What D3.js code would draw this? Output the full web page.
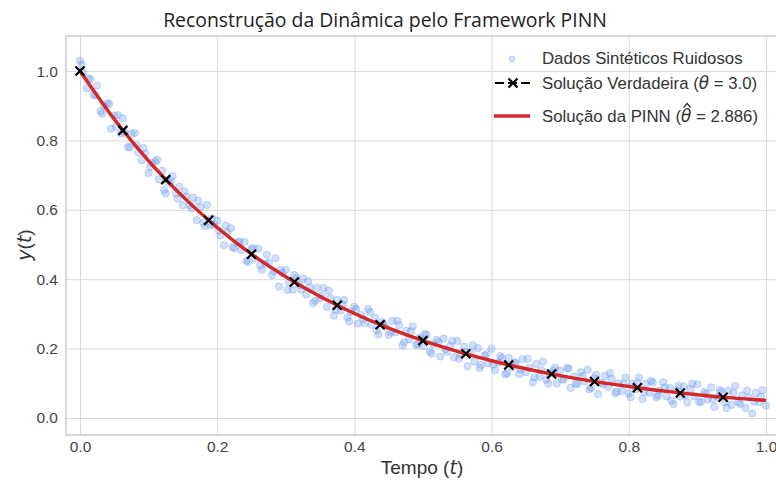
<!DOCTYPE html>
<meta charset="utf-8">
<style>
body { margin: 0; background: #fff; }
svg { display: block; }
.grid line { stroke: #d8d8d8; stroke-width: 1; }
</style>
<body>
<svg width="776" height="480"></svg>
<script src="https://d3js.org/d3.v7.min.js"></script>
<script>
// tick values
var xTicks = [0.0, 0.2, 0.4, 0.6, 0.8, 1.0];
var yTicks = [0.0, 0.2, 0.4, 0.6, 0.8, 1.0];

// noisy synthetic points
var noiseT = [
  0.000,0.005,0.010,0.015,0.020,0.025,0.030,0.035,0.040,0.045,0.050,0.055,0.060,0.065,0.070,0.075,0.080,0.085,0.090,0.095,
  0.100,0.105,0.110,0.115,0.120,0.125,0.130,0.135,0.140,0.145,0.150,0.155,0.160,0.165,0.170,0.175,0.180,0.185,0.190,0.195,
  0.200,0.205,0.210,0.215,0.220,0.225,0.230,0.235,0.240,0.245,0.250,0.255,0.260,0.265,0.270,0.275,0.280,0.285,0.290,0.295,
  0.300,0.305,0.310,0.315,0.320,0.325,0.330,0.335,0.340,0.345,0.350,0.355,0.360,0.365,0.370,0.375,0.380,0.385,0.390,0.395,
  0.400,0.405,0.410,0.415,0.420,0.425,0.430,0.435,0.440,0.445,0.450,0.455,0.460,0.465,0.470,0.475,0.480,0.485,0.490,0.495,
  0.500,0.505,0.510,0.515,0.520,0.525,0.530,0.535,0.540,0.545,0.550,0.555,0.560,0.565,0.570,0.575,0.580,0.585,0.590,0.595,
  0.600,0.605,0.610,0.615,0.620,0.625,0.630,0.635,0.640,0.645,0.650,0.655,0.660,0.665,0.670,0.675,0.680,0.685,0.690,0.695,
  0.700,0.705,0.710,0.715,0.720,0.725,0.730,0.735,0.740,0.745,0.750,0.755,0.760,0.765,0.770,0.775,0.780,0.785,0.790,0.795,
  0.800,0.805,0.810,0.815,0.820,0.825,0.830,0.835,0.840,0.845,0.850,0.855,0.860,0.865,0.870,0.875,0.880,0.885,0.890,0.895,
  0.900,0.905,0.910,0.915,0.920,0.925,0.930,0.935,0.940,0.945,0.950,0.955,0.960,0.965,0.970,0.975,0.980,0.985,0.990,0.995,
  1.000,
  0.0025,0.0125,0.0225,0.0325,0.0425,0.0525,0.0625,0.0725,0.0825,0.0925,
  0.1025,0.1125,0.1225,0.1325,0.1425,0.1525,0.1625,0.1725,0.1825,0.1925,
  0.2025,0.2125,0.2225,0.2325,0.2425,0.2525,0.2625,0.2725,0.2825,0.2925,
  0.3025,0.3125,0.3225,0.3325,0.3425,0.3525,0.3625,0.3725,0.3825,0.3925,
  0.4025,0.4125,0.4225,0.4325,0.4425,0.4525,0.4625,0.4725,0.4825,0.4925,
  0.5025,0.5125,0.5225,0.5325,0.5425,0.5525,0.5625,0.5725,0.5825,0.5925,
  0.6025,0.6125,0.6225,0.6325,0.6425,0.6525,0.6625,0.6725,0.6825,0.6925,
  0.7025,0.7125,0.7225,0.7325,0.7425,0.7525,0.7625,0.7725,0.7825,0.7925,
  0.8025,0.8125,0.8225,0.8325,0.8425,0.8525,0.8625,0.8725,0.8825,0.8925,
  0.9025,0.9125,0.9225,0.9325,0.9425,0.9525,0.9625,0.9725,0.9825,0.9925
];
var noiseY = [
  1.030,0.995,0.950,0.976,0.932,0.958,0.884,0.900,0.907,0.834,0.871,0.873,0.820,0.823,0.781,0.819,0.822,0.765,0.743,0.762,
  0.706,0.735,0.739,0.688,0.713,0.647,0.677,0.697,0.647,0.667,0.613,0.638,0.614,0.635,0.570,0.607,0.563,0.614,0.556,0.557,
  0.569,0.526,0.498,0.535,0.547,0.489,0.507,0.484,0.507,0.450,0.487,0.460,0.488,0.427,0.445,0.448,0.412,0.460,0.379,0.418,
  0.427,0.391,0.370,0.404,0.383,0.402,0.357,0.376,0.331,0.375,0.345,0.375,0.320,0.345,0.295,0.340,0.310,0.340,0.290,0.306,
  0.321,0.272,0.297,0.273,0.314,0.269,0.290,0.241,0.277,0.263,0.239,0.280,0.247,0.268,0.209,0.251,0.227,0.264,0.210,0.232,
  0.208,0.240,0.192,0.213,0.225,0.177,0.229,0.191,0.208,0.175,0.222,0.184,0.206,0.149,0.186,0.163,0.201,0.153,0.180,0.158,
  0.200,0.138,0.160,0.173,0.126,0.173,0.146,0.159,0.127,0.169,0.132,0.145,0.103,0.156,0.119,0.162,0.110,0.128,0.136,0.099,
  0.137,0.111,0.144,0.087,0.120,0.098,0.132,0.105,0.139,0.087,0.115,0.069,0.102,0.121,0.089,0.113,0.071,0.100,0.078,0.117,
  0.071,0.099,0.083,0.117,0.055,0.099,0.073,0.102,0.060,0.079,0.103,0.062,0.086,0.040,0.079,0.062,0.091,0.045,0.084,0.063,
  0.097,0.046,0.075,0.054,0.088,0.032,0.061,0.076,0.045,0.079,0.038,0.092,0.046,0.065,0.029,0.059,0.013,0.072,0.046,0.080,
  0.035,
  1.018,0.978,0.930,0.877,0.905,0.839,0.864,0.780,0.786,0.778,
  0.725,0.744,0.657,0.682,0.632,0.653,0.604,0.626,0.553,0.576,
  0.540,0.554,0.493,0.508,0.453,0.489,0.440,0.471,0.423,0.426,
  0.369,0.412,0.370,0.394,0.338,0.352,0.367,0.312,0.328,0.278,
  0.314,0.285,0.306,0.253,0.270,0.247,0.280,0.218,0.250,0.213,
  0.242,0.185,0.219,0.198,0.222,0.171,0.190,0.209,0.144,0.184,
  0.154,0.179,0.129,0.160,0.140,0.171,0.117,0.138,0.099,0.145,
  0.112,0.143,0.099,0.121,0.083,0.125,0.097,0.129,0.076,0.098,
  0.060,0.102,0.075,0.107,0.065,0.088,0.050,0.093,0.066,0.099,
  0.047,0.070,0.053,0.081,0.029,0.072,0.041,0.079,0.047,0.061
];

// true solution (theta = 3.0), marker positions
var trueT = [0, 0.0625, 0.125, 0.1875, 0.25, 0.3125, 0.375, 0.4375, 0.5, 0.5625, 0.625, 0.6875, 0.75, 0.8125, 0.875, 0.9375];
var trueY = [1.000, 0.829, 0.687, 0.570, 0.472, 0.392, 0.325, 0.269, 0.223, 0.185, 0.153, 0.127, 0.105, 0.087, 0.072, 0.060];

// PINN solution (theta hat = 2.886)
var pinnT = [0, 0.05, 0.1, 0.15, 0.2, 0.25, 0.3, 0.35, 0.4, 0.45, 0.5, 0.55, 0.6, 0.65, 0.7, 0.75, 0.8, 0.85, 0.9, 0.95, 1.0];
var pinnY = [1.000, 0.861, 0.741, 0.638, 0.549, 0.472, 0.407, 0.350, 0.301, 0.259, 0.223, 0.192, 0.165, 0.142, 0.122, 0.105, 0.091, 0.078, 0.067, 0.058, 0.051];

var svg = d3.select("svg");
var plotL = 66, plotR = 780, plotT = 36, plotB = 435;
var sans = "'Liberation Sans', Arial, sans-serif";

var x = d3.scaleLinear().domain([-0.0204, 1.0204]).range([plotL, plotR]);
var y = d3.scaleLinear().domain([-0.049, 1.101]).range([plotB, plotT]);

function styleTicks(g) {
  g.select(".domain").remove();
  g.selectAll(".tick text")
    .style("font-family", sans)
    .style("font-size", "15.5px")
    .style("fill", "#444");
}

// grid + tick labels
svg.append("g")
    .attr("class", "grid")
    .attr("transform", "translate(" + plotL + ",0)")
    .call(d3.axisLeft(y).tickValues(yTicks).tickFormat(d3.format(".1f"))
      .tickSizeInner(-(plotR - plotL)).tickSizeOuter(0).tickPadding(8))
    .call(styleTicks);

svg.append("g")
    .attr("class", "grid")
    .attr("transform", "translate(0," + plotB + ")")
    .call(d3.axisBottom(x).tickValues(xTicks).tickFormat(d3.format(".1f"))
      .tickSizeInner(-(plotB - plotT)).tickSizeOuter(0).tickPadding(6))
    .call(styleTicks);

// frame (seaborn whitegrid style)
svg.append("rect")
    .attr("x", plotL).attr("y", plotT)
    .attr("width", plotR - plotL).attr("height", plotB - plotT)
    .attr("fill", "none").attr("stroke", "#cfcfcf").attr("stroke-width", 1.6);

// scatter
svg.append("g").selectAll("circle")
    .data(noiseT)
  .enter().append("circle")
    .attr("cx", function(d) { return x(d); })
    .attr("cy", function(d, i) { return y(noiseY[i]); })
    .attr("r", 3.7)
    .attr("fill", "rgba(100,149,237,0.3)")
    .attr("stroke", "rgba(100,149,237,0.3)")
    .attr("stroke-width", 1);

// true solution dashed line (under the red curve) + x markers
var trueLine = d3.line()
    .x(function(d) { return x(d); })
    .y(function(d, i) { return y(trueY[i]); })
    .curve(d3.curveMonotoneX);

svg.append("path")
    .datum(trueT)
    .attr("d", trueLine)
    .attr("fill", "none")
    .attr("stroke", "#000")
    .attr("stroke-width", 2)
    .attr("stroke-dasharray", "7,3");

function xMark(g, cx, cy, s) {
  g.append("path")
    .attr("d", "M" + (cx - s) + "," + (cy - s) + "L" + (cx + s) + "," + (cy + s) +
               "M" + (cx - s) + "," + (cy + s) + "L" + (cx + s) + "," + (cy - s))
    .attr("stroke", "#000").attr("stroke-width", 2.2).attr("fill", "none");
}

// PINN line
var pinnLine = d3.line()
    .x(function(d) { return x(d); })
    .y(function(d, i) { return y(pinnY[i]); })
    .curve(d3.curveMonotoneX);

svg.append("path")
    .datum(pinnT)
    .attr("d", pinnLine)
    .attr("fill", "none")
    .attr("stroke", "#d62728")
    .attr("stroke-width", 3.4);

var marks = svg.append("g");
trueT.forEach(function(t, i) { xMark(marks, x(t), y(trueY[i]), 4.5); });

// titles
svg.append("text")
    .attr("x", 385).attr("y", 27)
    .attr("text-anchor", "middle")
    .style("font-family", "'Open Sans', sans-serif")
    .style("font-size", "19.4px")
    .style("fill", "#222")
    .text("Reconstrução da Dinâmica pelo Framework PINN");

function mathTspan(sel, s) {
  return sel.append("tspan")
    .style("font-family", "'DejaVu Sans', sans-serif")
    .style("font-style", "italic")
    .text(s);
}

var xl = svg.append("text")
    .attr("x", 422).attr("y", 474)
    .attr("text-anchor", "middle")
    .style("font-family", sans).style("font-size", "19px")
    .style("fill", "#333");
xl.append("tspan").text("Tempo (");
mathTspan(xl, "t");
xl.append("tspan").text(")");

var yl = svg.append("text")
    .attr("transform", "translate(31,245) rotate(-90)")
    .attr("text-anchor", "middle")
    .style("font-family", sans).style("font-size", "19px")
    .style("fill", "#333");
mathTspan(yl, "y");
yl.append("tspan").text("(");
mathTspan(yl, "t");
yl.append("tspan").text(")");

// legend
var lg = svg.append("g");
function legendText(yy) {
  return lg.append("text").attr("x", 542).attr("y", yy)
    .style("font-family", sans).style("font-size", "16.8px").style("fill", "#333");
}

lg.append("circle").attr("cx", 512).attr("cy", 59).attr("r", 3)
    .attr("fill", "rgba(100,149,237,0.3)").attr("stroke", "rgba(100,149,237,0.3)");
legendText(64).text("Dados Sintéticos Ruidosos");

lg.append("line").attr("x1", 495).attr("x2", 531).attr("y1", 83).attr("y2", 83)
    .attr("stroke", "#000").attr("stroke-width", 2.2).attr("stroke-dasharray", "9,4");
xMark(lg, 513, 83, 4.5);
var t2 = legendText(89);
t2.append("tspan").text("Solução Verdadeira (");
mathTspan(t2, "θ");
t2.append("tspan").text(" = 3.0)");

lg.append("line").attr("x1", 494).attr("x2", 530).attr("y1", 116).attr("y2", 116)
    .attr("stroke", "#d62728").attr("stroke-width", 3.4);
var t3 = legendText(122);
t3.append("tspan").text("Solução da PINN (");
mathTspan(t3, "θ");
t3.append("tspan").text(" = 2.886)");

// hat over theta hat
var box = t3.node().getExtentOfChar("Solução da PINN (".length);
var hx = box.x + box.width / 2 + 1;
lg.append("path")
    .attr("d", "M" + (hx - 3.5) + ",107.5L" + hx + ",103.5L" + (hx + 3.5) + ",107.5")
    .attr("fill", "none").attr("stroke", "#333").attr("stroke-width", 1.3);
</script>
</body>
